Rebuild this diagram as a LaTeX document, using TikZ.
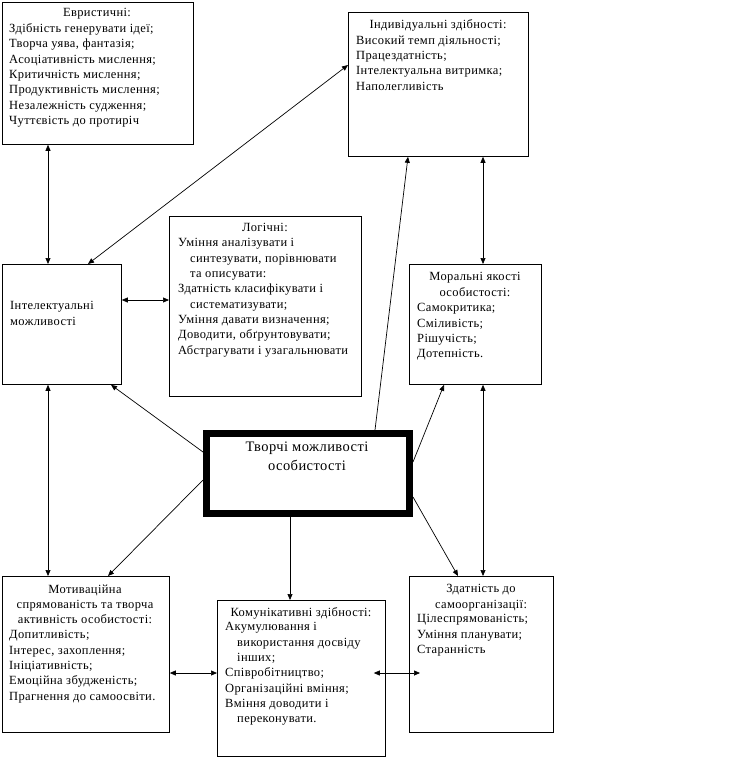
\documentclass[tikz,border=0pt]{standalone}
\usepackage{fontspec}
\setmainfont{Liberation Serif}[LetterSpace=3]
\usetikzlibrary{arrows.meta,calc}
\begin{document}
\begin{tikzpicture}[x=1pt,y=-1pt,
  box/.style={draw, line width=0.8pt, fill=white, inner sep=0pt, anchor=north west},
  txt/.style={inner sep=0pt, font=\fontsize{12.5}{15.3}\selectfont, align=left, anchor=north west},
  hd/.style={inner sep=0pt, font=\fontsize{12.5}{15.3}\selectfont, align=center, anchor=north},
  conn/.style={line width=0.7pt},
  arr/.style={-{Triangle[length=6pt,width=5pt]}},
  dbl/.style={{Triangle[length=6pt,width=5pt]}-{Triangle[length=6pt,width=5pt]}}]
\fill[white] (0,0) rectangle (746,770);
\useasboundingbox (0,0) rectangle (746,770);

% boxes
\node[box, minimum width=191pt, minimum height=142pt] (heur) at (2,2) {};
\node[box, minimum width=180pt, minimum height=144pt] (indiv) at (348,12) {};
\node[box, minimum width=192pt, minimum height=180pt] (logic) at (169,216) {};
\node[box, minimum width=119pt, minimum height=120pt] (intel) at (2,264) {};
\node[box, minimum width=132pt, minimum height=120pt] (moral) at (409,264) {};
\node[draw, line width=7pt, fill=white, inner sep=0pt, minimum width=203pt, minimum height=80pt] (tvor) at (308,473.5) {};
\node[box, minimum width=167pt, minimum height=156pt] (motiv) at (2,576) {};
\node[box, minimum width=168pt, minimum height=156pt] (komun) at (217,600) {};
\node[box, minimum width=144pt, minimum height=156pt] (zdat) at (409,576) {};

% connectors
\draw[conn,dbl] (48,0 |- heur.south) -- (48,0 |- intel.north);
\draw[conn,dbl] (88,0 |- intel.north) -- (indiv.west |- 0,65);
\draw[conn,dbl] (intel.east |- 0,300) -- (logic.west |- 0,300);
\draw[conn,dbl] (483,0 |- indiv.south) -- (483,0 |- moral.north);
\draw[conn,arr] (375,0 |- tvor.north) -- (408,0 |- indiv.south);
\draw[conn,arr] (tvor.west |- 0,452) -- (111,0 |- intel.south);
\draw[conn,arr] (tvor.east |- 0,462) -- (444,0 |- moral.south);
\draw[conn,arr] (tvor.west |- 0,480) -- (108,0 |- motiv.north);
\draw[conn,arr] (290,0 |- tvor.south) -- (290,0 |- komun.north);
\draw[conn,arr] (tvor.east |- 0,497) -- (458,0 |- zdat.north);
\draw[conn,dbl] (48,0 |- intel.south) -- (48,0 |- motiv.north);
\draw[conn,dbl] (483,0 |- moral.south) -- (483,0 |- zdat.north);
\draw[conn,dbl] (motiv.east |- 0,673) -- (komun.west |- 0,673);
\draw[conn,dbl] ($(komun.east |- 0,673)+(-12,0)$) -- ($(zdat.west |- 0,673)+(11,0)$);

% texts
\node[hd] (heurH) at (97,8.5) {Евристичні:};
\node[txt] (heurB) at (9,23.5) {Здібність генерувати ідеї;\\Творча уява, фантазія;\\Асоціативність мислення;\\Критичність мислення;\\Продуктивність мислення;\\Незалежність судження;\\Чуттєвість до протиріч};

\node[hd] (indivH) at (438,19.5) {Індивідуальні здібності:};
\node[txt] (indivB) at (356,35.5) {Високий темп діяльності;\\Працездатність;\\Інтелектуальна витримка;\\Наполегливість};

\node[hd] (logicH) at (265,223.5) {Логічні:};
\node[txt] (logicB) at (178,238.5) {Уміння аналізувати і\\\hspace*{12pt}синтезувати, порівнювати\\\hspace*{12pt}та описувати:\\Здатність класифікувати і\\\hspace*{12pt}систематизувати;\\Уміння давати визначення;\\Доводити, обґрунтовувати;\\Абстрагувати і узагальнювати};

\node[txt] (intelT) at (10,301.5) {Інтелектуальні\\можливості};

\node[hd] (moralH) at (475,272.5) {Моральні якості\\особистості:};
\node[txt] (moralB) at (417,303.5) {Самокритика;\\Сміливість;\\Рішучість;\\Дотепність.};

\node[hd, font=\fontsize{14.5}{19}\selectfont] (tvorT) at (307,442) {Творчі можливості\\особистості};

\node[hd] (motivH) at (85,584.5) {Мотиваційна\\спрямованість та творча\\активність особистості:};
\node[txt] (motivB) at (9,630.5) {Допитливість;\\Інтерес, захоплення;\\Ініціативність;\\Емоційна збудженість;\\Прагнення до самоосвіти.};

\node[hd] (komunH) at (301,607.5) {Комунікативні здібності:};
\node[txt] (komunB) at (225,622.5) {Акумулювання і\\\hspace*{12pt}використання досвіду\\\hspace*{12pt}інших;\\Співробітництво;\\Організаційні вміння;\\Вміння доводити і\\\hspace*{12pt}переконувати.};

\node[hd] (zdatH) at (481,584.5) {Здатність до\\самоорганізації:};
\node[txt] (zdatB) at (417,614.5) {Цілеспрямованість;\\Уміння планувати;\\Старанність};
\end{tikzpicture}
\end{document}
